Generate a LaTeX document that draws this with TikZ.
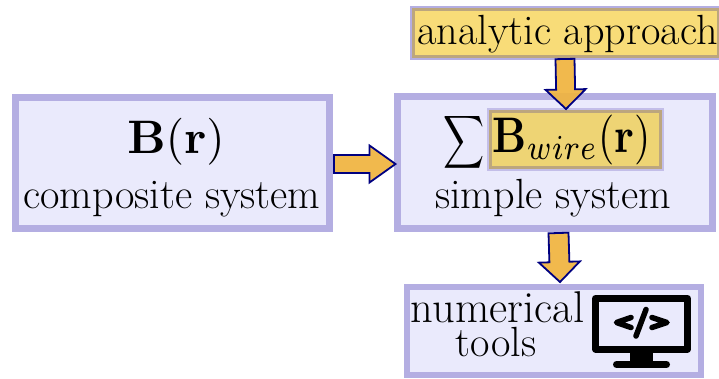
\documentclass[tikz,border=0pt]{standalone}
\usepackage{graphicx}
\usetikzlibrary{calc}
\definecolor{boxfill}{HTML}{EAEAFC}
\definecolor{boxedge}{HTML}{B4AEE2}
\definecolor{yellowfill}{HTML}{F8DC78}
\definecolor{goldfill}{HTML}{EED474}
\definecolor{tanedge}{HTML}{BCA67E}
\definecolor{arrowfill}{HTML}{F0B440}
\definecolor{arrowedge}{HTML}{000080}
\tikzset{
  sysbox/.style={draw=boxedge,fill=boxfill,line width=7pt,inner sep=0pt,outer sep=0pt,anchor=north west},
  halobox/.style={draw=boxedge!70,line width=5.5pt,inner sep=0pt,outer sep=0pt,anchor=north west},
  tanbox/.style={draw=tanedge,line width=2.8pt,inner sep=0pt,outer sep=0pt,anchor=north west},
  label/.style={inner sep=0pt,outer sep=0pt,anchor=base,text=black},
  blockarrow/.style={draw=arrowedge,fill=arrowfill,fill opacity=.93,line width=1.8pt,line join=miter},
  iconline/.style={draw=black,line cap=round,line join=round}
}
\newcommand{\tenpt}{\fontsize{10}{12}\selectfont}
\newcommand{\blockarrow}[5]{% from, to, half shaft, head half width, head length
  \draw[blockarrow]
    let \p1=(#1),\p2=(#2),\n1={veclen(\x2-\x1,\y2-\y1)},\n2={(\x2-\x1)/\n1},\n3={(\y2-\y1)/\n1} in
    ({\x1-\n3*#3},{\y1+\n2*#3}) --
    ({\x2-\n2*#5-\n3*#3},{\y2-\n3*#5+\n2*#3}) --
    ({\x2-\n2*#5-\n3*#4},{\y2-\n3*#5+\n2*#4}) --
    (\x2,\y2) --
    ({\x2-\n2*#5+\n3*#4},{\y2-\n3*#5-\n2*#4}) --
    ({\x2-\n2*#5+\n3*#3},{\y2-\n3*#5-\n2*#3}) --
    ({\x1+\n3*#3},{\y1-\n2*#3}) -- cycle;
}
\begin{document}
\begin{tikzpicture}[x=1pt,y=-1pt,font=\fontsize{42.2}{46}\selectfont]
\useasboundingbox (0,0) rectangle (719,378);
% boxes
\node[sysbox,minimum width=314pt,minimum height=131pt] (composite) at (15.5,97.5) {};
\node[sysbox,minimum width=315pt,minimum height=132pt] (simple) at (397.5,96.5) {};
\node[sysbox,line width=6pt,minimum width=294pt,minimum height=88pt] (numerical) at (407,287) {};
% analytic box
\node[halobox,fill=yellowfill,minimum width=309pt,minimum height=51pt,draw=boxedge,line width=3pt] (analytic) at (411.5,7.5) {};
\node[tanbox,minimum width=305pt,minimum height=47pt] (analyticin) at (413.5,9.5) {};
% wire box
\node[halobox,draw=boxedge!80,line width=3pt,fill=goldfill,minimum width=174pt,minimum height=60pt] (wire) at (488.5,109.5) {};
\node[tanbox,minimum width=170pt,minimum height=56pt] (wirein) at (490.5,111.5) {};
% texts
\node[label] (tb) at (176,153) {\scalebox{4.7}{\tenpt$\mathbf{B}(\mathbf{r})$}};
\node[label] (tc) at (172,208) {composite system};
\node[label] (ts) at (553,208) {simple system};
\node[label] (ta) at (567.5,44) {analytic approach};
\node[label] (tn) at (497.5,322) {\fontsize{44.5}{46}\selectfont numerical};
\node[label] (tt) at (496,356) {tools};
\node[label] (tsum) at (464.5,152) {\scalebox{2.85}[3.7]{\tenpt$\displaystyle\sum$}};
\node[label] (tw) at (571.5,152) {\scalebox{4.18}[5]{\tenpt$\mathbf{B}_{wire}(\mathbf{r})$}};
% monitor
\draw[draw=black,line width=7pt,line join=round,fill=boxfill] (595.5,298.5) rectangle (687.5,349);
\fill[black] (630,349) rectangle (653,362);
\draw[iconline,line width=7pt] (616.5,364.5) -- (666.5,364.5);
\draw[iconline,line width=5.5pt] (631,317.5) -- (616.5,322.5) -- (631,327.5);
\draw[iconline,line width=5.5pt] (652,317.5) -- (667,322.5) -- (652,327.5);
\draw[iconline,line width=5.5pt] (646,309.5) -- (636,336);
% arrows
\coordinate (a1) at (334,164);
\coordinate (a2) at (395.5,164);
\coordinate (a3) at (565,59);
\coordinate (a4) at (566,109);
\coordinate (a5) at (558.5,233);
\coordinate (a6) at (560,282);
\blockarrow{a1}{a2}{9}{18.5}{26}
\blockarrow{a3}{a4}{9.5}{20}{19.5}
\blockarrow{a5}{a6}{10}{20.5}{20}
\end{tikzpicture}
\end{document}
